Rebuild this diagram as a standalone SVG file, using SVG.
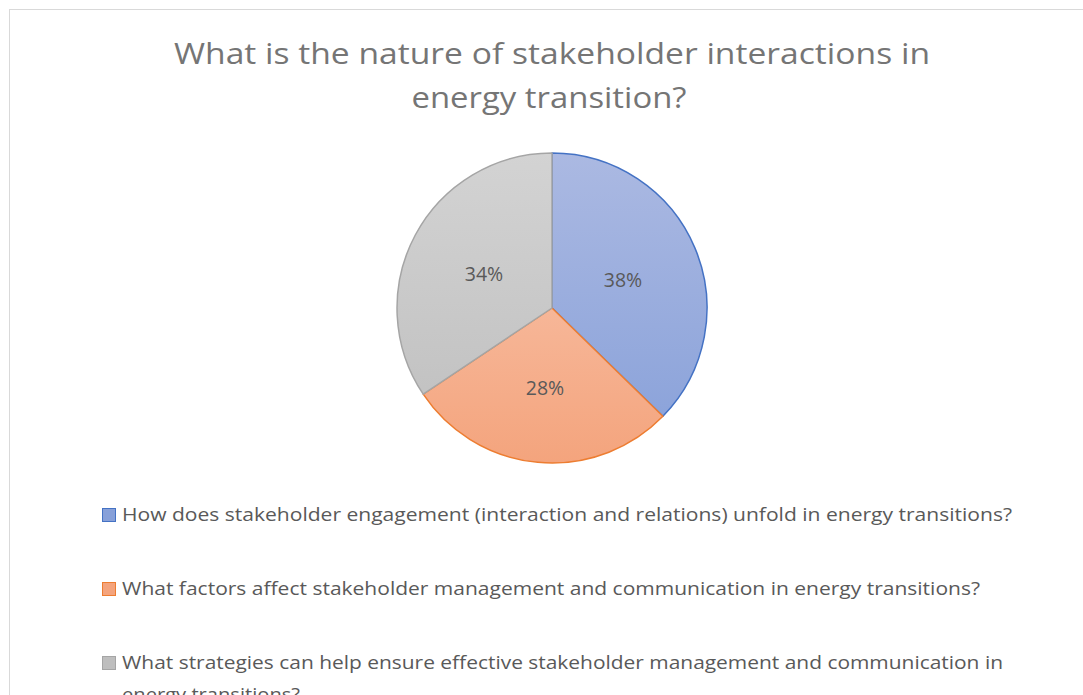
<svg xmlns="http://www.w3.org/2000/svg" width="1083" height="695" viewBox="0 0 1083 695">
<style>
.title{font-family:"Open Sans","Liberation Sans",Arial,sans-serif;font-size:29px;fill:#757575;text-anchor:middle}
.lbl{font-family:"Open Sans","Liberation Sans",Arial,sans-serif;font-size:19.5px;fill:#595959;text-anchor:middle}
.leg{font-family:"Open Sans","Liberation Sans",Arial,sans-serif;font-size:18.5px;fill:#595959}
</style>
<defs>
<linearGradient id="gb" x1="0" y1="153" x2="0" y2="463" gradientUnits="userSpaceOnUse"><stop offset="0" stop-color="#abb9e2"/><stop offset="1" stop-color="#87a0d9"/></linearGradient>
<linearGradient id="go" x1="0" y1="153" x2="0" y2="463" gradientUnits="userSpaceOnUse"><stop offset="0" stop-color="#f9c9b3"/><stop offset="1" stop-color="#f4a47d"/></linearGradient>
<linearGradient id="gg" x1="0" y1="153" x2="0" y2="463" gradientUnits="userSpaceOnUse"><stop offset="0" stop-color="#d3d3d3"/><stop offset="1" stop-color="#bebebe"/></linearGradient>
</defs>
<rect x="0" y="0" width="1083" height="695" fill="#ffffff"/>
<rect x="9.5" y="9.5" width="1100" height="700" fill="none" stroke="#d9d9d9" stroke-width="1"/>
<g id="title">
<text class="title" x="552" y="64" textLength="756" lengthAdjust="spacingAndGlyphs">What is the nature of stakeholder interactions in</text>
<text class="title" x="549" y="108" textLength="275" lengthAdjust="spacingAndGlyphs">energy transition?</text>
</g>
<g id="pie">
<g id="slice-blue"><path d="M552,308 L552,153 A155,155 0 0 1 662.9,416.3 Z" fill="url(#gb)" stroke="#4472c4" stroke-width="1.5" stroke-linejoin="round"/></g>
<g id="slice-orange"><path d="M552,308 L662.9,416.3 A155,155 0 0 1 423.2,394.2 Z" fill="url(#go)" stroke="#ed7d31" stroke-width="1.5" stroke-linejoin="round"/></g>
<g id="slice-gray"><path d="M552,308 L423.2,394.2 A155,155 0 0 1 552,153 Z" fill="url(#gg)" stroke="#a5a5a5" stroke-width="1.5" stroke-linejoin="round"/></g>
<text class="lbl" x="623" y="287">38%</text>
<text class="lbl" x="545" y="395">28%</text>
<text class="lbl" x="484" y="281">34%</text>
</g>
<g id="legend">
<rect x="102.5" y="508.5" width="13" height="13" fill="url(#gb)" stroke="#4472c4"/>
<text class="leg" x="122" y="521" textLength="890" lengthAdjust="spacingAndGlyphs">How does stakeholder engagement (interaction and relations) unfold in energy transitions?</text>
<rect x="102.5" y="582.5" width="13" height="13" fill="url(#go)" stroke="#ed7d31"/>
<text class="leg" x="122" y="595" textLength="858" lengthAdjust="spacingAndGlyphs">What factors affect stakeholder management and communication in energy transitions?</text>
<rect x="102.5" y="656.5" width="13" height="13" fill="url(#gg)" stroke="#a5a5a5"/>
<text class="leg" x="122" y="669" textLength="881" lengthAdjust="spacingAndGlyphs">What strategies can help ensure effective stakeholder management and communication in</text>
<text class="leg" x="122" y="701" textLength="178" lengthAdjust="spacingAndGlyphs">energy transitions?</text>
</g>
</svg>
